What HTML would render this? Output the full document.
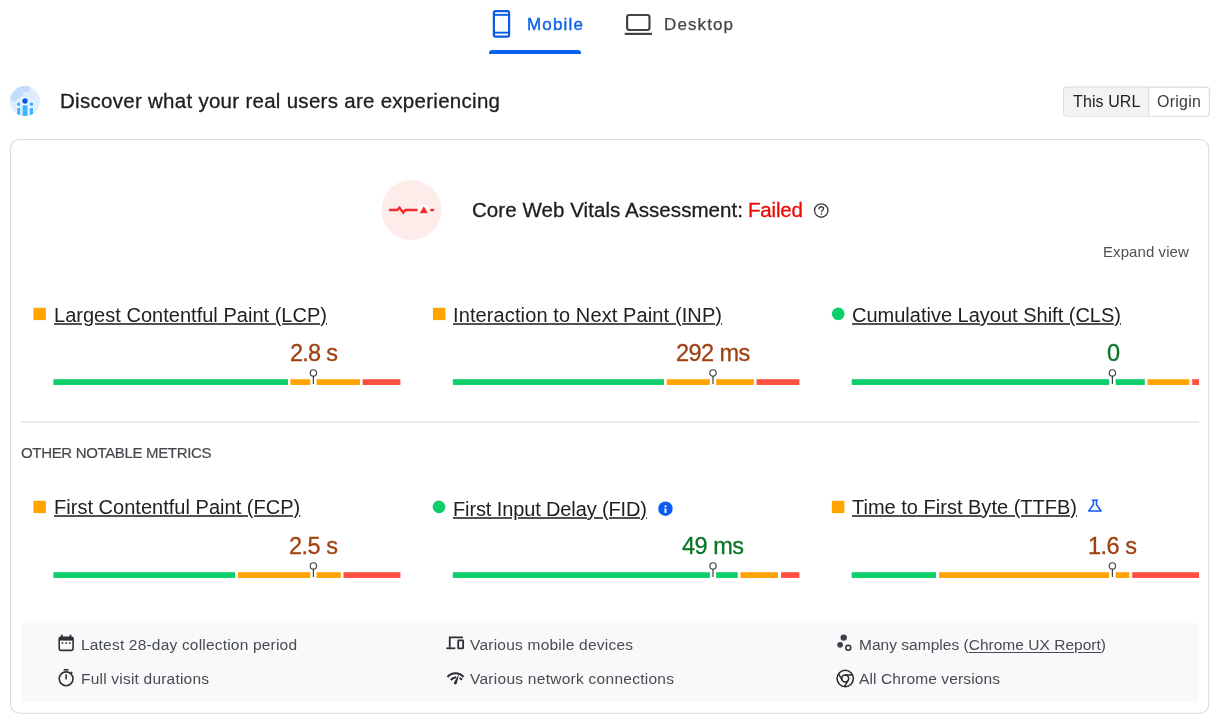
<!DOCTYPE html>
<html><head><meta charset="utf-8"><title>PageSpeed Insights</title>
<style>
html,body{margin:0;padding:0;background:#fff;}
body{width:1220px;height:724px;position:relative;overflow:hidden;font-family:"Liberation Sans",sans-serif;}
.t{will-change:transform;position:absolute;white-space:pre;line-height:1;font-family:"Liberation Sans",sans-serif;}
.a{position:absolute;}
svg{position:absolute;overflow:visible;}
</style></head><body>
<svg style="left:0;top:0" width="1220" height="724" viewBox="0 0 1220 724">
<path d="M489,53.9 V53 a3,3 0 0 1 3,-3 H578 a3,3 0 0 1 3,3 V53.9 Z" fill="#0b62ea"/>
<rect x="10.5" y="139.5" width="1198.3" height="573.8" rx="9" fill="#fff" stroke="#dadce0" stroke-width="1.1"/>
<rect x="1063.6" y="87.1" width="145.7" height="29.1" rx="3" fill="#fff" stroke="#dadce0" stroke-width="1.1"/>
<path d="M1066.6,87.65 H1148.2 V115.35 H1066.6 a2.5,2.5 0 0 1 -2.5,-2.5 V90.15 a2.5,2.5 0 0 1 2.5,-2.5 Z" fill="#f1f3f4"/>
<rect x="1148.20" y="87.10" width="1.10" height="28.80" fill="#dadce0"/>
<circle cx="411.4" cy="210" r="30" fill="#fdecea"/>
<rect x="21.00" y="421.40" width="1178.00" height="1.10" fill="#dcdde3"/>
<rect x="21.00" y="623.00" width="1178.00" height="79.60" fill="#f8f9fa" rx="4"/>
<rect x="53.40" y="379.20" width="234.60" height="5.75" fill="#0cce6b"/>
<rect x="290.40" y="379.20" width="69.50" height="5.75" fill="#ffa400"/>
<rect x="362.60" y="379.20" width="37.80" height="5.75" fill="#ff4e42"/>
<rect x="310.25" y="378.20" width="6.30" height="8.00" fill="#fff"/>
<circle cx="313.4" cy="372.90" r="3.15" fill="#fff" stroke="#3c4043" stroke-width="1.15"/><line x1="313.4" y1="376.10" x2="313.4" y2="384.00" stroke="#3c4043" stroke-width="1.2"/>
<rect x="452.80" y="379.20" width="211.20" height="5.75" fill="#0cce6b"/>
<rect x="666.60" y="379.20" width="87.30" height="5.75" fill="#ffa400"/>
<rect x="756.50" y="379.20" width="42.90" height="5.75" fill="#ff4e42"/>
<rect x="709.90" y="378.20" width="6.20" height="8.00" fill="#fff"/>
<circle cx="713.0" cy="372.90" r="3.15" fill="#fff" stroke="#3c4043" stroke-width="1.15"/><line x1="713.0" y1="376.10" x2="713.0" y2="384.00" stroke="#3c4043" stroke-width="1.2"/>
<rect x="851.70" y="379.20" width="293.10" height="5.75" fill="#0cce6b"/>
<rect x="1147.50" y="379.20" width="41.90" height="5.75" fill="#ffa400"/>
<rect x="1192.20" y="379.20" width="6.80" height="5.75" fill="#ff4e42"/>
<rect x="1109.10" y="378.20" width="6.60" height="8.00" fill="#fff"/>
<circle cx="1112.4" cy="372.90" r="3.15" fill="#fff" stroke="#3c4043" stroke-width="1.15"/><line x1="1112.4" y1="376.10" x2="1112.4" y2="384.00" stroke="#3c4043" stroke-width="1.2"/>
<rect x="53.40" y="572.20" width="181.70" height="5.75" fill="#0cce6b"/>
<rect x="237.90" y="572.20" width="102.90" height="5.75" fill="#ffa400"/>
<rect x="343.50" y="572.20" width="56.90" height="5.75" fill="#ff4e42"/>
<rect x="310.25" y="571.20" width="6.30" height="8.00" fill="#fff"/>
<circle cx="313.4" cy="565.90" r="3.15" fill="#fff" stroke="#3c4043" stroke-width="1.15"/><line x1="313.4" y1="569.10" x2="313.4" y2="577.00" stroke="#3c4043" stroke-width="1.2"/>
<rect x="452.80" y="572.20" width="284.90" height="5.75" fill="#0cce6b"/>
<rect x="740.50" y="572.20" width="37.50" height="5.75" fill="#ffa400"/>
<rect x="781.10" y="572.20" width="18.30" height="5.75" fill="#ff4e42"/>
<rect x="709.90" y="571.20" width="6.20" height="8.00" fill="#fff"/>
<circle cx="713.0" cy="565.90" r="3.15" fill="#fff" stroke="#3c4043" stroke-width="1.15"/><line x1="713.0" y1="569.10" x2="713.0" y2="577.00" stroke="#3c4043" stroke-width="1.2"/>
<rect x="851.70" y="572.20" width="84.30" height="5.75" fill="#0cce6b"/>
<rect x="939.10" y="572.20" width="190.20" height="5.75" fill="#ffa400"/>
<rect x="1132.20" y="572.20" width="66.80" height="5.75" fill="#ff4e42"/>
<rect x="1109.10" y="571.20" width="6.60" height="8.00" fill="#fff"/>
<circle cx="1112.4" cy="565.90" r="3.15" fill="#fff" stroke="#3c4043" stroke-width="1.15"/><line x1="1112.4" y1="569.10" x2="1112.4" y2="577.00" stroke="#3c4043" stroke-width="1.2"/>
<rect x="33.40" y="307.80" width="12.50" height="12.30" fill="#ffa400"/>
<rect x="432.90" y="307.80" width="12.50" height="12.30" fill="#ffa400"/>
<circle cx="838.20" cy="313.90" r="6.3" fill="#0cce6b"/>
<rect x="33.40" y="500.80" width="12.50" height="12.30" fill="#ffa400"/>
<circle cx="439.00" cy="506.90" r="6.3" fill="#0cce6b"/>
<rect x="831.90" y="500.80" width="12.50" height="12.30" fill="#ffa400"/>
<!-- phone icon -->
<svg x="490" y="8" width="24" height="32" viewBox="0 0 24 32"><rect x="3.9" y="3.2" width="15.2" height="25.5" rx="1.6" fill="none" stroke="#0b5ae0" stroke-width="2.2"/><rect x="4" y="5.9" width="15" height="1.9" fill="#0b5ae0"/><rect x="4" y="23.7" width="15" height="1.9" fill="#0b5ae0"/></svg>
<!-- laptop icon -->
<svg x="622" y="10" width="32" height="28" viewBox="0 0 32 28"><rect x="5.1" y="5" width="22.4" height="15" rx="2.2" fill="none" stroke="#404347" stroke-width="2.2"/><rect x="2.7" y="22.8" width="27.3" height="2.2" fill="#404347"/></svg>
<!-- crux icon -->
<svg x="10" y="86.1" width="30" height="30" viewBox="0 0 30 30">
<defs><clipPath id="cc"><circle cx="15" cy="15" r="15"/></clipPath></defs>
<g clip-path="url(#cc)">
<rect width="30" height="30" fill="#dfedff"/>
<path d="M-1,-1 H21 L20.3,1.8 L19,5.5 L13.2,6.2 L12.8,9.8 L8.3,11.8 L5,15.8 L-1,12 Z" fill="#c2dcfd"/>
<rect x="6.6" y="21.4" width="4.2" height="10" fill="#fff"/><rect x="7.1" y="21.9" width="3.2" height="10" fill="#3fb2fa"/>
<rect x="19.3" y="21.4" width="4.2" height="10" fill="#fff"/><rect x="19.8" y="21.9" width="3.2" height="10" fill="#3fb2fa"/>
<circle cx="8.7" cy="18" r="2.5" fill="#fff"/><circle cx="8.7" cy="18" r="1.9" fill="#3fb2fa"/>
<circle cx="21.4" cy="18" r="2.5" fill="#fff"/><circle cx="21.4" cy="18" r="1.9" fill="#3fb2fa"/>
<rect x="11.9" y="18.6" width="6.2" height="13" fill="#fff"/><rect x="12.5" y="19.2" width="5" height="13" fill="#3fb2fa"/>
<circle cx="15" cy="14.9" r="3.6" fill="#fff"/><circle cx="15" cy="14.9" r="2.75" fill="#0a55f5"/>
</g></svg>
<!-- CWV pulse icon -->
<svg x="381.5" y="180" width="60" height="60" viewBox="0 0 60 60">
<path d="M7.5,30 H15.7 L18,27.6 L21.6,32.6 L24,30 H36" fill="none" stroke="#fa2a2a" stroke-width="2.3" stroke-linejoin="miter"/>
<circle cx="42.3" cy="30" r="5.6" fill="#fff"/>
<path d="M42.3,26.3 L46.5,33.2 H38.1 Z" fill="#fa2a2a"/>
<rect x="48.7" y="28.85" width="3.9" height="2.3" fill="#fa2a2a"/>
</svg>
<!-- help icon -->
<svg x="813.25" y="202.55" width="16" height="16" viewBox="0 0 16 16"><circle cx="8" cy="8" r="6.7" fill="none" stroke="#3a3d41" stroke-width="1.35"/><path d="M5.7,6.6 C5.7,4.9 6.8,4.2 8,4.2 C9.3,4.2 10.3,5 10.3,6.2 C10.3,7.7 8.2,7.9 8.2,9.7" fill="none" stroke="#3a3d41" stroke-width="1.3"/><rect x="7.5" y="10.6" width="1.4" height="1.5" fill="#3a3d41"/></svg>
<!-- info icon -->
<svg x="657.45" y="500.7" width="16" height="16" viewBox="0 0 16 16"><circle cx="8" cy="8" r="7.25" fill="#0b5cf5"/><rect x="7.05" y="4.7" width="1.9" height="1.8" fill="#fff"/><rect x="7.05" y="7.7" width="1.9" height="4.5" fill="#fff"/></svg>
<!-- flask icon -->
<svg x="1085.6" y="496.3" width="18.6" height="18.6" viewBox="0 0 24 24"><path fill="#0b5cf5" d="M13,11.33L18,18H6l5-6.67V6h2 M15.96,4H8.04C7.62,4,7.39,4.48,7.65,4.81L9,6.5v4.17L3.2,18.4C2.71,19.06,3.18,20,4,20h16c0.82,0,1.29-0.94,0.8-1.6L15,10.67V6.5l1.35-1.69C16.61,4.48,16.38,4,15.96,4L15.96,4z"/></svg>
<!-- calendar icon -->
<svg x="57" y="633" width="19" height="20" viewBox="0 0 19 20"><rect x="2.2" y="4.2" width="13.9" height="13.2" rx="1.6" fill="none" stroke="#2f3134" stroke-width="1.6"/><rect x="2.2" y="4.2" width="13.9" height="3.4" fill="#2f3134"/><rect x="3.9" y="1.7" width="1.8" height="3" fill="#2f3134"/><rect x="12.6" y="1.7" width="1.8" height="3" fill="#2f3134"/><rect x="4.7" y="9.3" width="1.6" height="1.6" fill="#2f3134"/><rect x="8.3" y="9.3" width="1.6" height="1.6" fill="#2f3134"/><rect x="11.9" y="9.3" width="1.6" height="1.6" fill="#2f3134"/></svg>
<!-- stopwatch icon -->
<svg x="57" y="667" width="19" height="21" viewBox="0 0 19 21"><circle cx="9.1" cy="11.8" r="6.9" fill="none" stroke="#2f3134" stroke-width="1.6"/><rect x="6.7" y="2" width="4.8" height="1.6" fill="#2f3134"/><rect x="8.3" y="7.4" width="1.6" height="5" fill="#2f3134"/><path d="M13.6,6.6 L15.3,4.9" stroke="#2f3134" stroke-width="1.5" fill="none"/></svg>
<!-- devices icon -->
<svg x="445" y="634" width="21" height="18" viewBox="0 0 21 18"><path d="M4.75,13.5 V3.3 H17.9" fill="none" stroke="#2f3134" stroke-width="1.8"/><rect x="1.4" y="13.4" width="8.9" height="1.8" fill="#2f3134"/><rect x="13.2" y="6.4" width="4.95" height="7.9" rx="0.5" fill="none" stroke="#2f3134" stroke-width="1.8"/></svg>
<!-- network icon -->
<svg x="445" y="670" width="21" height="17" viewBox="0 0 21 17">
<path d="M2.5,6.9 C7,2.0 14,2.0 18.5,6.9" fill="none" stroke="#26282b" stroke-width="2.2"/>
<path d="M5.8,10 C7.2,8.4 9.1,7.4 11.2,7.2" fill="none" stroke="#26282b" stroke-width="2.1"/>
<path d="M14.3,3.6 L11.75,13.3 C11.4,14.7 9.5,14.9 9,13.6 C8.8,13 8.9,12.5 9.3,12 Z" fill="#26282b"/>
<path d="M14.6,8.2 C15.5,8.6 16.3,9.2 16.9,9.9" fill="none" stroke="#26282b" stroke-width="2"/>
</svg>
<!-- samples icon -->
<svg x="835" y="633" width="19" height="20" viewBox="0 0 19 20"><circle cx="8.7" cy="4.6" r="3.2" fill="#3e4145"/><circle cx="5.1" cy="11.8" r="2.9" fill="#3e4145"/><circle cx="13.3" cy="14.7" r="2.5" fill="none" stroke="#2f3134" stroke-width="1.5"/></svg>
<!-- chrome icon -->
<svg x="835.2" y="668.5" width="20" height="20" viewBox="0 0 20 20"><circle cx="10" cy="10" r="8.15" fill="none" stroke="#26282b" stroke-width="1.5"/><circle cx="10" cy="10" r="3.45" fill="none" stroke="#26282b" stroke-width="1.5"/><path d="M10,6.55 H17.44 M12.99,11.73 L9.27,18.17 M7.01,11.73 L3.29,5.28" fill="none" stroke="#26282b" stroke-width="1.5"/></svg>

</svg>

<span class="t" style="left:527px;top:16.00px;font-size:17px;color:#0b62ea;letter-spacing:1.181px;font-weight:400;-webkit-text-stroke:0.4px #0b62ea;">Mobile</span>
<span class="t" style="left:664px;top:16.00px;font-size:17px;color:#42454a;letter-spacing:1.104px;font-weight:400;-webkit-text-stroke:0.25px #42454a;">Desktop</span>
<span class="t" style="left:60px;top:91.00px;font-size:20.5px;color:#1c1d20;letter-spacing:0.283px;font-weight:400;-webkit-text-stroke:0.3px #1c1d20;">Discover what your real users are experiencing</span>
<span class="t" style="left:1072.8px;top:94.00px;font-size:16px;color:#202124;letter-spacing:0.102px;font-weight:400;">This URL</span>
<span class="t" style="left:1157.3px;top:94.00px;font-size:16px;color:#3c4043;letter-spacing:0.243px;font-weight:400;">Origin</span>
<span class="t" style="left:472px;top:200.00px;font-size:20.5px;color:#1c1d20;letter-spacing:0.066px;font-weight:400;-webkit-text-stroke:0.3px #1c1d20;">Core Web Vitals Assessment:</span>
<span class="t" style="left:748px;top:200.00px;font-size:20.5px;color:#ea0a05;letter-spacing:-0.169px;font-weight:400;-webkit-text-stroke:0.3px #ea0a05;">Failed</span>
<span class="t" style="left:1102.5px;top:244.00px;font-size:15px;color:#4d5156;letter-spacing:0.074px;font-weight:400;">Expand view</span>
<span class="t" style="left:54px;top:305.00px;font-size:20px;color:#202124;letter-spacing:0.022px;font-weight:400;text-decoration:underline;text-underline-offset:1px;text-decoration-thickness:2px;text-decoration-color:rgba(32,33,36,0.78);">Largest Contentful Paint (LCP)</span>
<span class="t" style="left:453px;top:305.00px;font-size:20px;color:#202124;letter-spacing:0.111px;font-weight:400;text-decoration:underline;text-underline-offset:1px;text-decoration-thickness:2px;text-decoration-color:rgba(32,33,36,0.78);">Interaction to Next Paint (INP)</span>
<span class="t" style="left:852px;top:305.00px;font-size:20px;color:#202124;letter-spacing:-0.001px;font-weight:400;text-decoration:underline;text-underline-offset:1px;text-decoration-thickness:2px;text-decoration-color:rgba(32,33,36,0.78);">Cumulative Layout Shift (CLS)</span>
<span class="t" style="left:54px;top:497.00px;font-size:20px;color:#202124;letter-spacing:0.021px;font-weight:400;text-decoration:underline;text-underline-offset:1px;text-decoration-thickness:2px;text-decoration-color:rgba(32,33,36,0.78);">First Contentful Paint (FCP)</span>
<span class="t" style="left:453px;top:499.00px;font-size:20px;color:#202124;letter-spacing:-0.123px;font-weight:400;text-decoration:underline;text-underline-offset:1px;text-decoration-thickness:2px;text-decoration-color:rgba(32,33,36,0.78);">First Input Delay (FID)</span>
<span class="t" style="left:852px;top:497.00px;font-size:20px;color:#202124;letter-spacing:0.007px;font-weight:400;text-decoration:underline;text-underline-offset:1px;text-decoration-thickness:2px;text-decoration-color:rgba(32,33,36,0.78);">Time to First Byte (TTFB)</span>
<span class="t" style="left:289.7px;top:342.00px;font-size:23.5px;color:#a04010;letter-spacing:-0.763px;font-weight:400;-webkit-text-stroke:0.3px #a04010;">2.8 s</span>
<span class="t" style="left:676px;top:342.00px;font-size:23.5px;color:#a04010;letter-spacing:-0.576px;font-weight:400;-webkit-text-stroke:0.3px #a04010;">292 ms</span>
<span class="t" style="left:1106.5px;top:342.00px;font-size:23.5px;color:#0a7526;letter-spacing:-1.878px;font-weight:400;-webkit-text-stroke:0.3px #0a7526;">0</span>
<span class="t" style="left:289px;top:535.00px;font-size:23.5px;color:#a04010;letter-spacing:-0.488px;font-weight:400;-webkit-text-stroke:0.3px #a04010;">2.5 s</span>
<span class="t" style="left:682px;top:535.00px;font-size:23.5px;color:#0a7526;letter-spacing:-0.500px;font-weight:400;-webkit-text-stroke:0.3px #0a7526;">49 ms</span>
<span class="t" style="left:1088px;top:535.00px;font-size:23.5px;color:#a04010;letter-spacing:-0.488px;font-weight:400;-webkit-text-stroke:0.3px #a04010;">1.6 s</span>
<span class="t" style="left:21.3px;top:445.00px;font-size:15px;color:#46494d;letter-spacing:-0.338px;font-weight:400;-webkit-text-stroke:0.2px #46494d;">OTHER NOTABLE METRICS</span>
<span class="t" style="left:81px;top:637.00px;font-size:15.5px;color:#484b4f;letter-spacing:0.192px;font-weight:400;">Latest 28-day collection period</span>
<span class="t" style="left:81px;top:671.00px;font-size:15.5px;color:#484b4f;letter-spacing:0.208px;font-weight:400;">Full visit durations</span>
<span class="t" style="left:470px;top:637.00px;font-size:15.5px;color:#484b4f;letter-spacing:0.227px;font-weight:400;">Various mobile devices</span>
<span class="t" style="left:470px;top:671.00px;font-size:15.5px;color:#484b4f;letter-spacing:0.269px;font-weight:400;">Various network connections</span>
<span class="t" style="left:859px;top:637.00px;font-size:15.5px;color:#484b4f;letter-spacing:0.021px;font-weight:400;">Many samples (<span style="text-decoration:underline;text-underline-offset:2px">Chrome UX Report</span>)</span>
<span class="t" style="left:859px;top:671.00px;font-size:15.5px;color:#484b4f;letter-spacing:0.128px;font-weight:400;">All Chrome versions</span>
</body></html>
